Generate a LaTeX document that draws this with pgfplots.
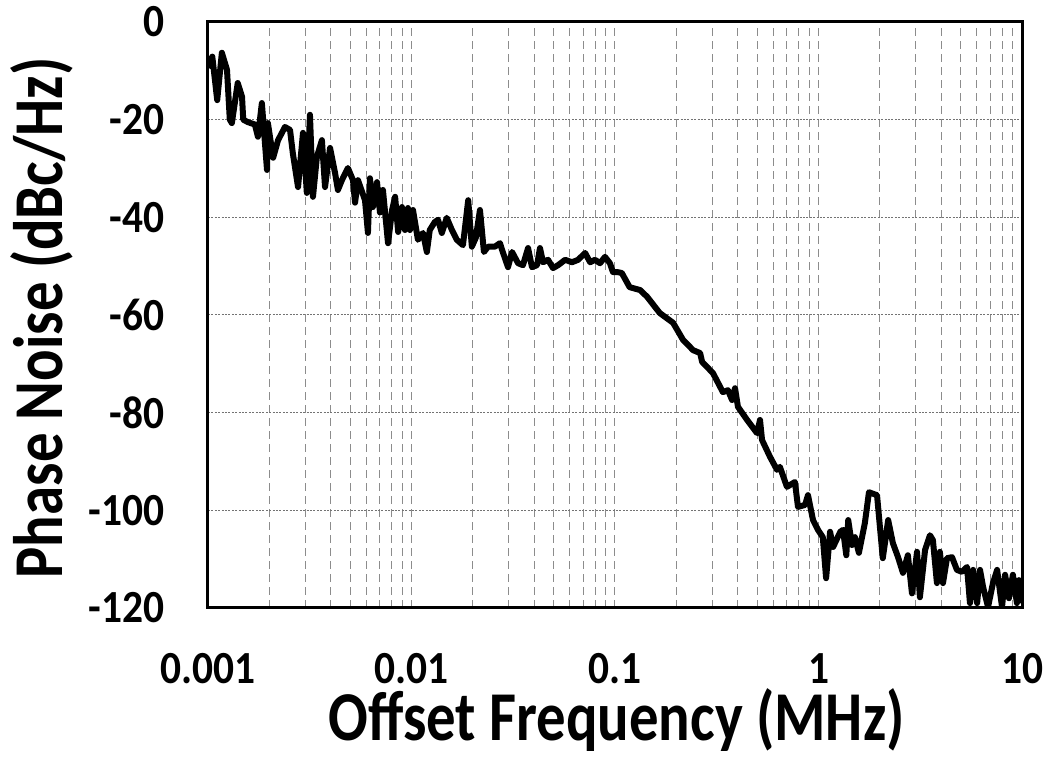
\documentclass[border=0pt]{standalone}
\usepackage{pgfplots}
\pgfplotsset{compat=1.18}
\usepackage{fontspec}
\setmainfont{Carlito}
\newfontfamily\labelfont[FakeStretch=0.84]{Carlito}
\newfontfamily\tickfont[FakeStretch=0.9]{Carlito}
\begin{document}
\begin{tikzpicture}
\useasboundingbox (-104pt,-75pt) rectangle (424.5pt,304pt);
\begin{axis}[
  at={(0,0)}, anchor=south west,
  scale only axis, width=407pt, height=293pt,
  xmode=log, xmin=0.001, xmax=10, ymin=-120, ymax=0,
  xtick={0.001,0.01,0.1,1,10},
  xticklabels={0.001,0.01,0.1,1,10},
  ytick={-120,-100,-80,-60,-40,-20,0},
  yticklabels={-120,-100,-80,-60,-40,-20,0},
  major tick length=0pt, minor tick length=0pt,
  xmajorgrids=true, xminorgrids=true, ymajorgrids=true,
  major x grid style={draw=black!45, line width=0.5pt, dash pattern=on 4pt off 2.5pt},
  minor x grid style={draw=black!45, line width=0.5pt, dash pattern=on 4pt off 2.5pt},
  major y grid style={draw=black!55, line width=0.5pt, dash pattern=on 1pt off 0.7pt},
  axis line style={line width=1.5pt, black},
  xticklabel style={font=\tickfont\fontsize{23}{25}\selectfont\bfseries, anchor=north, inner sep=0pt, yshift=-22.5pt},
  yticklabel style={font=\tickfont\fontsize{23}{25}\selectfont\bfseries, anchor=east, inner sep=0pt, xshift=-21.5pt},
  xlabel={Offset Frequency (MHz)},
  ylabel={Phase Noise (dBc/Hz)},
  xlabel style={font=\labelfont\fontsize{35}{38}\selectfont\bfseries, at={(axis description cs:0.502,-0.226)}, anchor=base, inner sep=0pt},
  ylabel style={font=\labelfont\fontsize{35}{38}\selectfont\bfseries, at={(axis description cs:-0.179,0.495)}, anchor=base, inner sep=0pt, rotate=0},
  clip=true,
]
\addplot[black, line width=3pt, line join=round] coordinates {
(0.00100,-9.4) (0.00105,-7.1) (0.00111,-16) (0.00117,-6.3) (0.00124,-9.8)
(0.00128,-20) (0.00131,-20.7) (0.00140,-12.5) (0.00147,-15.3) (0.00149,-20)
(0.00157,-20.5) (0.00170,-21) (0.00176,-23.5) (0.00184,-16.6) (0.00195,-30.3)
(0.00197,-20.7) (0.00209,-27.8) (0.00221,-24.2) (0.00239,-21.5) (0.00253,-22.1)
(0.00261,-26.8) (0.00277,-33.8) (0.00293,-22.7) (0.00306,-35) (0.00317,-19)
(0.00328,-35.8) (0.00343,-27.6) (0.00363,-24.2) (0.00376,-33.8) (0.00398,-25.8)
(0.00421,-30.9) (0.00435,-34.4) (0.00455,-32.4) (0.00487,-29.9) (0.00516,-32.4)
(0.00528,-37) (0.00546,-32.4) (0.00591,-36.5) (0.00611,-43.2) (0.00625,-32)
(0.00646,-37.9) (0.00677,-32.8) (0.00700,-39) (0.00724,-34.4) (0.00767,-45.3)
(0.00803,-38.5) (0.00831,-35.8) (0.00860,-43) (0.00898,-37.9) (0.00929,-42.6)
(0.00961,-38.1) (0.00983,-42.6) (0.01017,-38.5) (0.01076,-44.6) (0.01139,-43.2)
(0.0119,-47.1) (0.0123,-42.6) (0.0130,-41) (0.0135,-40.5) (0.0141,-43.2)
(0.0149,-40.1) (0.0158,-42.6) (0.0167,-44.6) (0.0179,-45.7) (0.0190,-36.5)
(0.0198,-46) (0.0207,-44.2) (0.0217,-38.5) (0.0227,-47.1) (0.0238,-46)
(0.0257,-46) (0.0272,-45.3) (0.0281,-47.1) (0.0298,-50.2) (0.0312,-47.1)
(0.0334,-49.4) (0.0353,-49.8) (0.0374,-46.3) (0.0391,-50.2) (0.0414,-49.8)
(0.0428,-46.3) (0.0443,-49.2) (0.0469,-48.7) (0.0496,-50.4) (0.0525,-49.8)
(0.0569,-48.7) (0.0615,-49.2) (0.0659,-48.7) (0.0713,-47.3) (0.0755,-49.2)
(0.0798,-48.7) (0.0844,-49.4) (0.0893,-48.1) (0.0944,-49.4) (0.0977,-51.2)
(0.1023,-51.2) (0.108,-51.4) (0.118,-54.3) (0.133,-54.9) (0.144,-56.3)
(0.166,-59.6) (0.193,-61.6) (0.216,-65.1) (0.242,-67.2) (0.262,-67.8)
(0.268,-69.6) (0.303,-71.9) (0.339,-75.8) (0.359,-75.4) (0.376,-77.4)
(0.389,-75) (0.402,-78.8) (0.446,-81.5) (0.499,-84.2) (0.516,-81.5)
(0.528,-85.6) (0.577,-89) (0.625,-91.7) (0.646,-91.1) (0.700,-95.2)
(0.766,-94.2) (0.793,-99.3) (0.859,-98.9) (0.888,-96.9) (0.940,-102)
(0.994,-104) (1.05,-105.5) (1.09,-113.9) (1.14,-104.4) (1.18,-107.5)
(1.28,-104.4) (1.32,-104) (1.37,-109.2) (1.40,-102) (1.46,-107.1)
(1.51,-105.5) (1.58,-108.7) (1.69,-102.6) (1.77,-96.3) (1.94,-96.9)
(2.01,-104) (2.07,-109.8) (2.20,-102) (2.32,-106.7) (2.46,-109.6)
(2.60,-112.8) (2.75,-109.2) (2.88,-117) (3.05,-108.5) (3.15,-117.8)
(3.34,-108.1) (3.53,-105.1) (3.65,-106.1) (3.82,-114.9) (3.95,-108.5)
(4.09,-114.9) (4.28,-109.8) (4.53,-109.6) (4.79,-112.2) (5.07,-112.6)
(5.37,-111.6) (5.55,-119) (5.75,-112.2) (6.02,-119) (6.22,-112.2)
(6.44,-115.7) (6.81,-119.8) (7.20,-114.9) (7.55,-112.2) (7.98,-119.8)
(8.26,-113.2) (8.63,-118) (9.02,-113.2) (9.44,-119) (9.66,-114.3) (10,-119)
};
\end{axis}
\end{tikzpicture}
\end{document}
